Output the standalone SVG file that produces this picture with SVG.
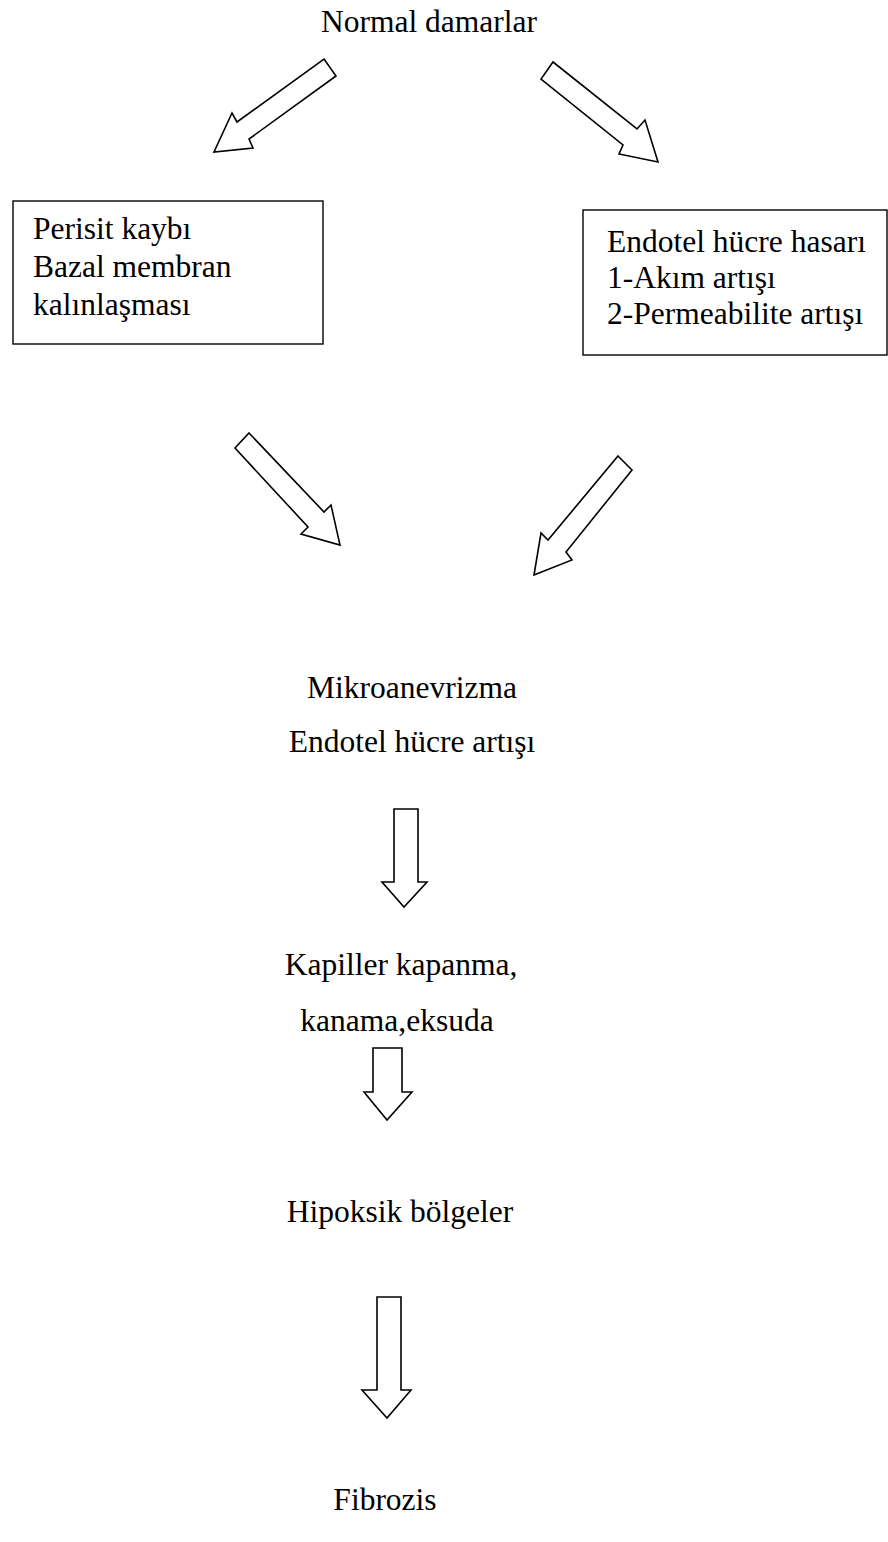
<svg xmlns="http://www.w3.org/2000/svg" width="888" height="1542" viewBox="0 0 888 1542">
<style>
.t{font-family:"Liberation Serif","Times New Roman",serif;font-size:31.5px;fill:#000}
.c{text-anchor:middle}
.box{fill:none;stroke:#000;stroke-width:1.4}
.arr{fill:#fff;stroke:#000;stroke-width:1.6;stroke-linejoin:miter}
</style>
<rect width="888" height="1542" fill="#fff"/>
<g id="n-normal"><text class="t c" x="429" y="32">Normal damarlar</text></g>
<g id="n-perisit">
<rect class="box" x="13" y="201" width="310" height="143"/>
<text class="t" x="33" y="239">Perisit kaybı</text>
<text class="t" x="33" y="277">Bazal membran</text>
<text class="t" x="33" y="315">kalınlaşması</text>
</g>
<g id="n-endotel">
<rect class="box" x="583" y="210" width="304" height="145"/>
<text class="t" x="607" y="252">Endotel hücre hasarı</text>
<text class="t" x="607" y="288">1-Akım artışı</text>
<text class="t" x="607" y="324">2-Permeabilite artışı</text>
</g>
<g id="n-mikro">
<text class="t c" x="412" y="698">Mikroanevrizma</text>
<text class="t c" x="412" y="752">Endotel hücre artışı</text>
</g>
<g id="n-kapiller">
<text class="t c" x="401" y="975">Kapiller kapanma,</text>
<text class="t c" x="397" y="1031">kanama,eksuda</text>
</g>
<g id="n-hipoksik"><text class="t c" x="400" y="1222">Hipoksik bölgeler</text></g>
<g id="n-fibrozis"><text class="t c" x="385" y="1510">Fibrozis</text></g>
<g id="connectors">
<polygon class="arr" points="324,59 336,76 249,139 253,148 214,152 232,113 237,122"/>
<polygon class="arr" points="553,62 637,129 645,120 658,162 619,154 623,145 541,79"/>
<polygon class="arr" points="249,433 324,512 331,505 340,545 301,534 308,527 235,448"/>
<polygon class="arr" points="618,456 632,470 566,552 572,560 534,575 541,533 548,540"/>
<polygon class="arr" points="394,809 418,809 418,882 427,882 404,907 382,882 394,882"/>
<polygon class="arr" points="373,1048 402,1048 402,1092 412,1092 387,1120 364,1092 373,1092"/>
<polygon class="arr" points="377,1297 401,1297 401,1390 411,1390 387,1418 362,1390 377,1390"/>
</g>
</svg>
